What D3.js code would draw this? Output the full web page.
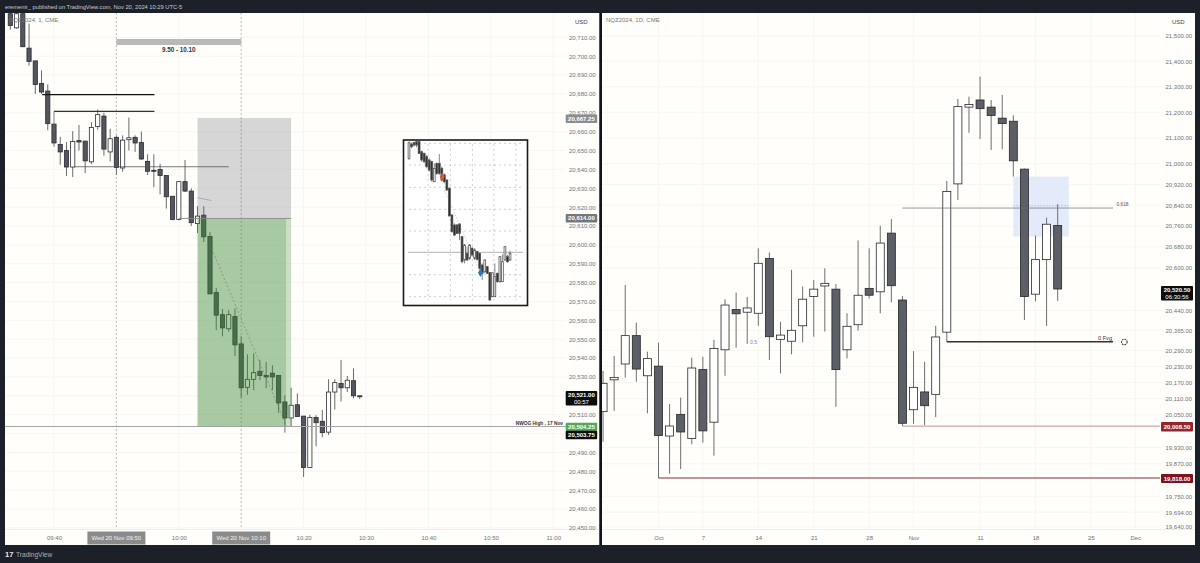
<!DOCTYPE html>
<html><head><meta charset="utf-8">
<script src="https://cdn.jsdelivr.net/npm/d3@7"></script>
<style>html,body{margin:0;padding:0;background:#1b2029;overflow:hidden}svg{display:block}text{font-family:"Liberation Sans",Arial,sans-serif}</style>
</head><body><svg id="c" width="1200" height="563"></svg>
<script>
// ---------- 1-minute chart (NQZ2024, 1) : minutes relative to 10:00 ----------
const leftFirstMinute = -27;
const leftOpen  = [20722.5,20715,20722.5,20704.25,20697.5,20685.5,20681.5,20664,20653.25,20650,20641.25,20655.25,20655,20644,20662.75,20668.25,20649.25,20657,20640.75,20655.75,20657,20654.25,20644.25,20639.5,20640,20636.75,20625.75,20613.5,20633.5,20628.5,20611.25,20615.75,20604.5,20574.75,20563,20555.5,20562,20547.5,20524.5,20528.75,20533,20530.75,20532,20530.75,20516.75,20508.25,20515.25,20509.25,20482,20508.5,20506.5,20500.75,20522,20526.5,20524.25,20528,20520];
const leftHigh  = [20725,20724,20724,20717.25,20697.5,20692.5,20685,20664,20657.25,20654.5,20660.25,20663.5,20655,20665,20671.75,20670,20661.5,20658,20658,20667.5,20658,20660,20648,20648,20643,20636.75,20625.75,20633.5,20645,20630,20620.5,20620.5,20606.75,20577.25,20566,20565.5,20566.25,20551.5,20542,20542.5,20539,20538,20536.25,20530.75,20520.25,20524.25,20521.25,20509.25,20510,20509.75,20512.5,20528.75,20528.75,20539,20530.5,20534.5,20520];
const leftLow   = [20714,20714.5,20705,20695,20680,20680,20660.75,20652,20642.5,20636.5,20636,20650,20638,20642.75,20661,20647.25,20644.25,20637,20638.75,20650,20649.25,20645,20637,20630.5,20626.75,20619.25,20613,20613,20628,20610,20606.25,20601.5,20574,20554.75,20551.5,20554,20541,20519,20520.5,20523,20528.25,20524,20523,20511,20500.5,20503.5,20509,20477,20482,20493.25,20498,20499.25,20512.75,20517,20522,20518.75,20518.25];
const leftClose = [20716.25,20722.5,20705,20697.25,20685,20681,20664.25,20654,20649.25,20641.25,20654.75,20654.5,20644.5,20662.25,20669,20650.75,20656.25,20641,20655.5,20656.75,20654,20645.5,20639,20639,20636.75,20625.5,20613.5,20633.5,20628.5,20611.75,20615.25,20604.25,20574,20562.75,20556,20563,20547,20524.25,20528.75,20532.25,20530.75,20530,20530,20516.25,20508.25,20515,20509,20482,20508.5,20505.75,20500.5,20522,20527,20524.25,20528.25,20520,20519.5];
const leftPriceTicks = [20710,20700,20690,20680,20670,20660,20650,20640,20630,20620,20610,20600,20590,20580,20570,20560,20550,20540,20530,20520,20510,20500,20490,20480,20470,20460,20450];
const leftTimeTicks = [-20,-10,0,10,20,30,40,50,60];
const leftTimeLabels = ["09:40","09:50","10:00","10:10","10:20","10:30","10:40","10:50","11:00"];
const crosshairMinutes = [-10,10];

// ---------- Daily chart (NQZ2024, 1D) : bar index, 0 = 1 Oct ----------
const rightFirstBar = -5;
const rightOpen  = [20062,20180,20239,20345,20195,20231,19972,20052,19963,20218,20023,20292,20443,20433,20429,20636,20331,20324,20382,20492,20532,20520,20292,20386,20523,20510,20733,20479,20069,20135,20126,20358,20922,21220,21248,21220,21177,21165,20979,20501,20632,20762];
const rightHigh  = [20213,20269,20536,20394,20285,20319,20090,20114,20262,20266,20329,20482,20507,20491,20675,20659,20397,20593,20530,20555,20599,20539,20429,20705,20675,20761,20787,20494,20287,20247,20382,20933,21252,21261,21340,21248,21268,21188,20981,20724,20792,20844];
const rightLow   = [19951,20065,20188,20173,20056,19818,19834,19851,19942,19948,19900,20195,20300,20314,20382,20254,20204,20275,20320,20341,20360,20080,20260,20364,20485,20429,20470,20008.5,20017,20012,20042,20322,20860,21120,21096,21053,21056,20950,20404,20474,20381,20476];
const rightClose = [20167,20189,20345,20220,20259,19974,20009,19987,20224,19991,20297,20460,20427,20449,20618,20341,20347,20365,20482,20520,20542,20218,20380,20497,20497,20695,20533,20019,20152,20084,20340,20893,21222,21230,21214,21187,21156,21011,20492,20632,20767,20520.5];
const rightPriceTicks = [21500,21400,21300,21200,21100,21000,20920,20840,20760,20680,20600,20440,20365,20290,20230,20170,20110,20050,19930,19870,19750,19694,19640];
const rightDateTicks = [0,4,9,14,19,23,29,34,39,43];
const rightDateLabels = ["Oct","7","14","21","28","Nov","11","18","25","Dec"];

// ---------- Inset sketch (relative levels, unlabelled) ----------
const insetOpen  = [515,558,562,565,565,535,530,520,510,505,445,500,500,485,465,450,425,345,315,315,318,280,210,230,215,245,215,235,230,195,175,190,172,100,100,170,145,145,210,220,210];
const insetHigh  = [565,562,565,567,567,538,532,525,515,508,500,502,528,490,470,452,428,348,320,318,320,282,258,250,258,250,245,238,232,200,212,192,174,102,200,172,222,227,250,225,238];
const insetLow   = [510,545,550,548,528,505,500,485,475,445,445,465,465,445,440,418,342,292,282,288,270,200,200,208,210,220,210,208,182,150,170,168,88,98,145,142,142,202,208,202,208];
const insetClose = [562,550,555,555,530,510,505,490,480,450,485,470,470,450,445,420,342,295,285,290,290,205,255,210,255,225,240,212,185,170,210,170,90,172,160,145,220,205,250,205,230];
const insetGridH = [560,495,428,362,297,166,100];
const insetGridV = [7.6,16.4,25.1,33.6,42.4];

// ---------- Annotation levels ----------
const swingLevels = [20679.6,20670.75];
const midLevel = 20641.4;
const nwogLevel = 20503.75;
const tradeTop = 20667.25, tradeEntry = 20614, tradeTarget = 20503.75;
const fibLevel = 20829, fvgLevel = 20322, redLevels = [20008.5,19818];
const boxTop = 20950, boxBottom = 20720, boxDash = 20838;

const svg = d3.select("#c");
const BG = "#fffefa", DARK = "#1b2029";
svg.append("rect").attr("width",1200).attr("height",563).attr("fill",DARK);

const defs = svg.append("defs");
defs.append("clipPath").attr("id","cl").append("rect").attr("x",5).attr("y",13).attr("width",594.5).attr("height",532);
defs.append("clipPath").attr("id","cr").append("rect").attr("x",602).attr("y",13).attr("width",593).attr("height",532);

svg.append("rect").attr("x",5).attr("y",13).attr("width",594.5).attr("height",532).attr("fill",BG);
svg.append("rect").attr("x",602).attr("y",13).attr("width",593).attr("height",532).attr("fill",BG);
svg.append("rect").attr("x",599.5).attr("y",13).attr("width",2.5).attr("height",532).attr("fill","#11141a");

// scales
const yL = d3.scaleLinear().domain([20710,20450]).range([37.3,527.9]);
const xL = d3.scaleLinear().domain([-20,30]).range([54,366]);
const yR = d3.scaleLog().domain([19640,21500]).range([527,36]);
const xR = d3.scaleLinear().domain([0,34]).range([658.5,1035.5]);

const L = svg.append("g").attr("clip-path","url(#cl)");
const R = svg.append("g").attr("clip-path","url(#cr)");
const GRID = "#f7f6f1";

// grids
L.selectAll(".gh").data(leftPriceTicks).join("line").attr("x1",5).attr("x2",566).attr("y1",d=>yL(d)).attr("y2",d=>yL(d)).attr("stroke",GRID);
L.selectAll(".gv").data(leftTimeTicks).join("line").attr("x1",d=>xL(d)).attr("x2",d=>xL(d)).attr("y1",13).attr("y2",529).attr("stroke",GRID);
R.selectAll(".gh").data(rightPriceTicks).join("line").attr("x1",602).attr("x2",1160).attr("y1",d=>yR(d)).attr("y2",d=>yR(d)).attr("stroke",GRID);
R.selectAll(".gv").data(rightDateTicks).join("line").attr("x1",d=>xR(d)).attr("x2",d=>xR(d)).attr("y1",13).attr("y2",529).attr("stroke",GRID);
svg.append("line").attr("x1",5).attr("x2",599).attr("y1",529.5).attr("y2",529.5).attr("stroke","#efeee9");
svg.append("line").attr("x1",602).attr("x2",1195).attr("y1",529.5).attr("y2",529.5).attr("stroke","#efeee9");

// blue box on daily chart (under candles)
R.append("rect").attr("x",xR(32)).attr("width",xR(37)-xR(32)).attr("y",yR(boxTop)).attr("height",yR(boxBottom)-yR(boxTop)).attr("fill","#e3eaf9");

// candle helper
function candles(g, o,h,l,c, x, y, first, w, dark, edge, wick, ww){
  const idx = d3.range(o.length);
  g.append("g").selectAll("line").data(idx).join("line")
    .attr("x1",i=>x(first+i)).attr("x2",i=>x(first+i))
    .attr("y1",i=>y(h[i])).attr("y2",i=>y(l[i])).attr("stroke",wick).attr("stroke-width",ww);
  g.append("g").selectAll("rect").data(idx).join("rect")
    .attr("x",i=>x(first+i)-w/2).attr("width",w)
    .attr("y",i=>y(Math.max(o[i],c[i])))
    .attr("height",i=>Math.max(0.8,Math.abs(y(o[i])-y(c[i]))))
    .attr("fill",i=>c[i]<o[i]?dark:"#ffffff")
    .attr("stroke",edge).attr("stroke-width",0.8);
}

// left dashed verticals
L.selectAll(".vd").data(crosshairMinutes).join("line").attr("x1",d=>xL(d)).attr("x2",d=>xL(d)).attr("y1",13).attr("y2",529)
  .attr("stroke","#a9a9a9").attr("stroke-width",0.7).attr("stroke-dasharray","2,2");

candles(L,leftOpen,leftHigh,leftLow,leftClose,xL,yL,leftFirstMinute,4.2,"#53565e","#2a2c31","#6a6a6a",1);

// trade boxes over candles
const kA=3, kB=18, kC=17.2;
L.append("rect").attr("x",xL(kA)).attr("width",xL(kB)-xL(kA)).attr("y",yL(tradeTop)).attr("height",yL(tradeEntry)-yL(tradeTop)).attr("fill","rgba(100,100,112,0.26)");
L.append("rect").attr("x",xL(kA)).attr("width",xL(kC)-xL(kA)).attr("y",yL(tradeEntry)).attr("height",yL(tradeTarget)-yL(tradeEntry)).attr("fill","rgba(60,140,55,0.45)");
L.append("rect").attr("x",xL(kC)).attr("width",xL(kB)-xL(kC)).attr("y",yL(tradeEntry)).attr("height",yL(tradeTarget)-yL(tradeEntry)).attr("fill","rgba(60,140,55,0.27)");
L.append("line").attr("x1",xL(0)).attr("x2",xL(kB)).attr("y1",yL(tradeEntry)).attr("y2",yL(tradeEntry)).attr("stroke","#8a8a8a").attr("stroke-width",0.9);

// left annotations
L.append("line").attr("x1",xL(-21.9)).attr("x2",xL(-3.9)).attr("y1",yL(swingLevels[0])).attr("y2",yL(swingLevels[0])).attr("stroke","#111").attr("stroke-width",1.1);
L.append("line").attr("x1",xL(-20)).attr("x2",xL(-3.9)).attr("y1",yL(swingLevels[1])).attr("y2",yL(swingLevels[1])).attr("stroke","#333").attr("stroke-width",1.1);
L.append("line").attr("x1",xL(-20)).attr("x2",xL(-20)).attr("y1",yL(swingLevels[1])).attr("y2",yL(20661)).attr("stroke","#666").attr("stroke-width",0.8);
L.append("line").attr("x1",xL(-16.7)).attr("x2",xL(8)).attr("y1",yL(midLevel)).attr("y2",yL(midLevel)).attr("stroke","#555").attr("stroke-width",0.8);
L.append("line").attr("x1",5).attr("x2",566).attr("y1",yL(nwogLevel)).attr("y2",yL(nwogLevel)).attr("stroke","#a3a6a6").attr("stroke-width",1.1);
L.append("line").attr("x1",xL(3)).attr("x2",xL(5.2)).attr("y1",yL(20625)).attr("y2",yL(20623.5)).attr("stroke","#8f90c0").attr("stroke-width",0.7);
L.append("line").attr("x1",xL(5)).attr("x2",xL(17.3)).attr("y1",yL(20600)).attr("y2",yL(20503.75)).attr("stroke","#6d7a6d").attr("stroke-width",0.6).attr("stroke-dasharray","2,2");
// session bar
L.append("rect").attr("x",xL(-10)).attr("width",xL(10)-xL(-10)).attr("y",39).attr("height",6).attr("fill","#b9b9b9");
svg.append("text").attr("x",xL(0)).attr("y",51.8).attr("text-anchor","middle").attr("font-size",6.3).attr("font-weight",700).attr("fill","#333").text("9.50 - 10.10");
svg.append("text").attr("x",563).attr("y",425).attr("text-anchor","end").attr("font-size",4.8).attr("font-weight",700).attr("fill","#333").text("NWOG High , 17 Nov");

// inset
const iY = d3.scaleLinear().domain([600,0]).range([130,330]);
const iX = d3.scaleLinear().domain([0,40]).range([409,510]);
const I = svg.append("g");
I.append("rect").attr("x",403.5).attr("y",140).attr("width",124).attr("height",165.5).attr("fill","#fff").attr("stroke","#1a1a1a").attr("stroke-width",1.6);
I.selectAll(".h").data(insetGridH).join("line").attr("x1",409).attr("x2",522).attr("y1",d=>iY(d)).attr("y2",d=>iY(d)).attr("stroke","#c4c4c4").attr("stroke-width",0.8).attr("stroke-dasharray","2,3");
I.selectAll(".v").data(insetGridV).join("line").attr("x1",d=>iX(d)-0).attr("x2",d=>iX(d)).attr("y1",144).attr("y2",300).attr("stroke","#c4c4c4").attr("stroke-width",0.8).attr("stroke-dasharray","2,3");
I.append("line").attr("x1",408).attr("x2",523).attr("y1",iY(233)).attr("y2",iY(233)).attr("stroke","#c2c2c2").attr("stroke-width",1.1);
I.append("line").attr("x1",iX(14)).attr("x2",iX(28.3)).attr("y1",iY(420)).attr("y2",iY(172)).attr("stroke","#e0a090").attr("stroke-width",0.7).attr("stroke-dasharray","1.5,1.5");
candles(I,insetOpen,insetHigh,insetLow,insetClose,iX,iY,0,1.8,"#2a2a2a","#555","#666",0.8);
I.append("path").attr("transform",`translate(${iX(13.2)},${iY(460)})`).attr("d",d3.symbol(d3.symbolDiamond,22)).attr("fill","#d9553a");
I.append("path").attr("transform",`translate(${iX(28.3)},${iY(172)})`).attr("d",d3.symbol(d3.symbolDiamond,22)).attr("fill","#2f78c4");

// right candles and annotations
R.append("line").attr("x1",xR(32)).attr("x2",xR(37)).attr("y1",yR(boxDash)).attr("y2",yR(boxDash)).attr("stroke","#8fa4d8").attr("stroke-width",0.6).attr("stroke-dasharray","1.5,1.5");
candles(R,rightOpen,rightHigh,rightLow,rightClose,xR,yR,rightFirstBar,8,"#5d5f67","#26272b","#6e6e6e",1);
R.append("line").attr("x1",xR(22)).attr("x2",1113).attr("y1",yR(fibLevel)).attr("y2",yR(fibLevel)).attr("stroke","#6a6f78").attr("stroke-width",0.7);
R.append("line").attr("x1",xR(26)).attr("x2",1113).attr("y1",yR(fvgLevel)).attr("y2",yR(fvgLevel)).attr("stroke","#333").attr("stroke-width",1.4);
R.append("line").attr("x1",xR(22)).attr("x2",1160).attr("y1",yR(redLevels[0])).attr("y2",yR(redLevels[0])).attr("stroke","#c9a9a9").attr("stroke-width",1.1);
R.append("line").attr("x1",xR(0)).attr("x2",1160).attr("y1",yR(redLevels[1])).attr("y2",yR(redLevels[1])).attr("stroke","#8d2a33").attr("stroke-width",1.1);
svg.append("text").attr("x",1116.5).attr("y",205.5).attr("font-size",4.8).attr("fill","#555").text("0.618");
svg.append("text").attr("x",1098).attr("y",339.5).attr("font-size",5.6).attr("fill","#333").text("0 Fvg");
svg.append("text").attr("x",750).attr("y",343.5).attr("font-size",5).attr("fill","#7186c4").text("0.5");
svg.append("circle").attr("cx",1124.3).attr("cy",342).attr("r",2.8).attr("fill","none").attr("stroke","#333").attr("stroke-width",1.1).attr("stroke-dasharray","1.6,1");

// axes
function styleAxis(g){ g.select(".domain").remove(); g.selectAll(".tick line").remove();
  g.selectAll("text").attr("fill","#6f7278").attr("font-size",6).attr("font-family",null); }
const priceFmt = d3.format(",.2f");
svg.append("g").attr("transform","translate(569,0)").call(d3.axisRight(yL).tickValues(leftPriceTicks).tickFormat(priceFmt).tickSize(0).tickPadding(0)).call(styleAxis);
svg.append("g").attr("transform","translate(1165.5,0)").call(d3.axisRight(yR).tickValues(rightPriceTicks).tickFormat(priceFmt).tickSize(0).tickPadding(0)).call(styleAxis);
svg.append("g").attr("transform","translate(0,536)").call(d3.axisBottom(xL).tickValues(leftTimeTicks.filter(d=>!crosshairMinutes.includes(d))).tickFormat(d=>leftTimeLabels[leftTimeTicks.indexOf(d)]).tickSize(0).tickPadding(0)).call(styleAxis);
svg.append("g").attr("transform","translate(0,536)").call(d3.axisBottom(xR).tickValues(rightDateTicks).tickFormat((d,i)=>rightDateLabels[i]).tickSize(0).tickPadding(0)).call(styleAxis);

// USD boxes and titles
[[566,575],[1163,1172]].forEach(([bx,tx])=>{
  svg.append("rect").attr("x",bx).attr("y",15).attr("width",32).attr("height",13).attr("fill","#ffffff");
  svg.append("text").attr("x",tx).attr("y",23.5).attr("font-size",6).attr("fill","#444").text("USD");
});
svg.append("text").attr("x",9).attr("y",22).attr("font-size",6).attr("fill","#777").text("NQZ2024, 1, CME");
svg.append("text").attr("x",606).attr("y",22).attr("font-size",6).attr("fill","#777").text("NQZ2024, 1D, CME");

// price tags
function tag(x,y,w,h,fill,lines,color){
  svg.append("rect").attr("x",x).attr("y",y).attr("width",w).attr("height",h).attr("rx",1).attr("fill",fill);
  lines.forEach((t,i)=>{
    svg.append("text").attr("x",x+w/2).attr("y",y+(h/lines.length)*(i+0.5)+2).attr("text-anchor","middle")
      .attr("font-size",6).attr("font-weight",i==0?700:400).attr("fill",color||"#fff").text(t);
  });
}
tag(565.7,114.5,31.5,8.5,"#8a8c92",[priceFmt(tradeTop)]);
tag(565.7,214,31.5,8.5,"#75777d",[priceFmt(tradeEntry)]);
tag(565.7,391,31.5,14.5,"#0c0c0c",["20,521.00","00:57"]);
tag(565.7,422.7,31.5,8.2,"#55a85a",["20,504.25"]);
tag(565.7,430.8,31.5,8.5,"#0c0c0c",["20,503.75"]);
tag(1161,286,32,14.5,"#0c0c0c",["20,520.50","06:30:56"]);
tag(1161,422,32,9.5,"#96242f",["20,008.50"]);
tag(1161,474,32,9,"#7e1320",["19,818.00"]);

// crosshair time tags
[[xL(-10),"Wed 20 Nov   09:50"],[xL(10),"Wed 20 Nov   10:10"]].forEach(([x,t])=>{
  svg.append("rect").attr("x",x-29).attr("y",531.5).attr("width",58).attr("height",13).attr("fill","#8b8b8b");
  svg.append("text").attr("x",x).attr("y",540).attr("text-anchor","middle").attr("font-size",6).attr("fill","#f2f2f2").text(t);
});

// header and footer
svg.append("text").attr("x",5).attr("y",9.3).attr("font-size",5.75).attr("fill","#c9ccd1").text("eremenir_ published on TradingView.com, Nov 20, 2024 10:29 UTC-5");
svg.append("text").attr("x",5).attr("y",557).attr("font-size",7.5).attr("font-weight",700).attr("fill","#e8e8e8").text("17");
svg.append("text").attr("x",16).attr("y",556.8).attr("font-size",6.6).attr("fill","#aab0b8").text("TradingView");
</script></body></html>
